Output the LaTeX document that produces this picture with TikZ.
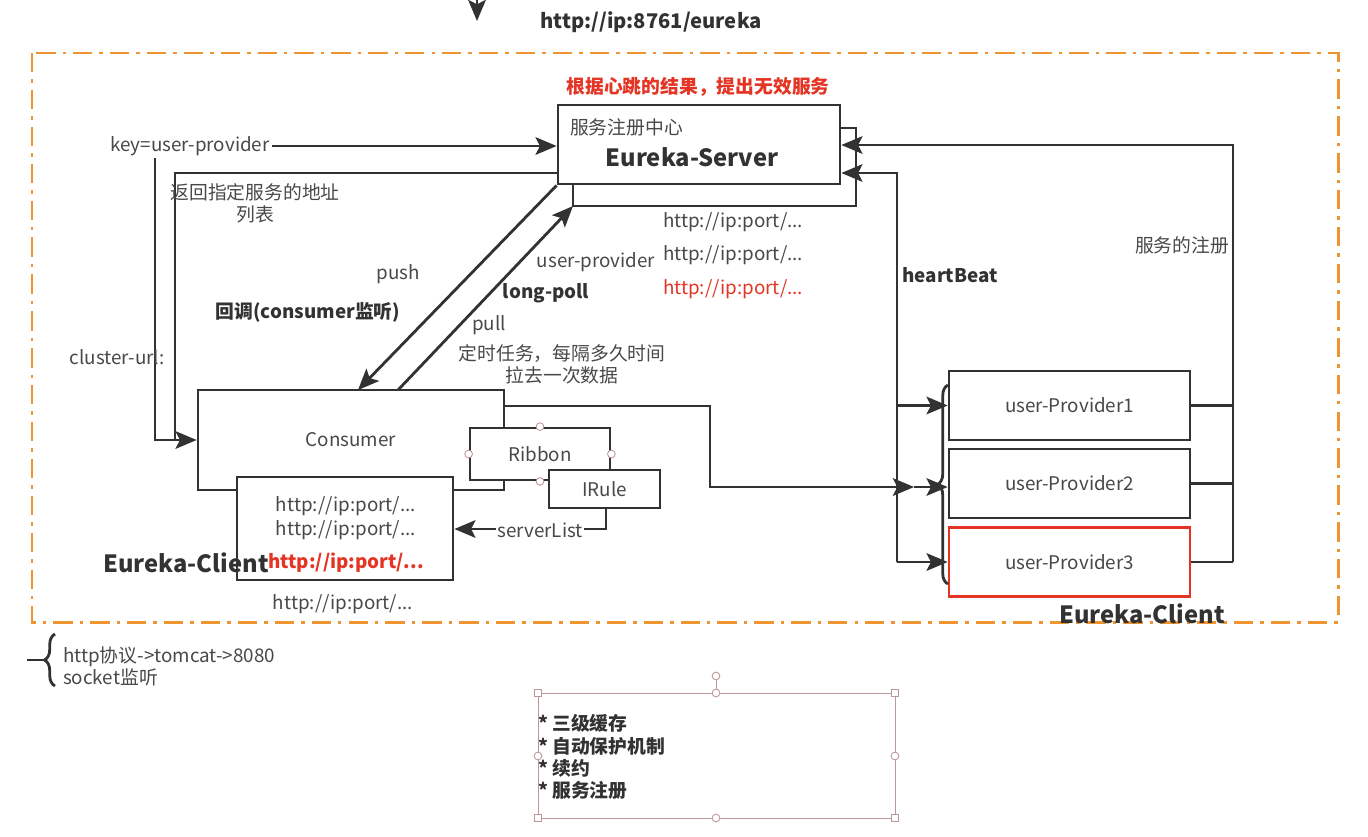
\documentclass[tikz,border=0pt]{standalone}
\usepackage{fontspec}
\setmainfont{Noto Sans CJK SC}
\usetikzlibrary{arrows.meta,decorations.pathreplacing}
\definecolor{ink}{RGB}{50,50,50}
\definecolor{txt}{RGB}{72,72,72}
\definecolor{frame}{RGB}{238,148,48}
\definecolor{alert}{RGB}{228,52,36}
\definecolor{handle}{RGB}{190,150,150}
\newcommand\normsize{\fontsize{10.7}{12.6}\selectfont}
\newcommand\bigsize{\fontsize{13.5}{16}\selectfont}
\tikzset{
 ln/.style={draw=ink,line width=1.6pt},
 arr/.style={ln,-{Stealth[length=12pt,width=10pt,inset=2.5pt]}},
 box/.style={draw=ink,line width=1.6pt,fill=white,text=txt,font=\normsize,inner sep=0pt},
 lab/.style={text=txt,font=\normsize,inner sep=1pt},
 bld/.style={text=ink,font=\normsize\bfseries,inner sep=1pt},
 big/.style={text=ink,font=\bigsize\bfseries,inner sep=1pt},
 hnd/.style={draw=handle,fill=white,line width=0.5pt}
}

\begin{document}
\begin{tikzpicture}[x=0.02cm,y=-0.02cm]
\useasboundingbox (0,0) rectangle (1368,836);

\draw[frame,line width=1.7pt,dash pattern=on 11pt off 4pt on 2pt off 4pt] (32,53) rectangle (1338,622);

\coordinate (topin) at (477,-2);
\coordinate (topout) at (477,21);
\draw[arr] (topin) -- (topout);
\node[bld,font=\fontsize{11.5}{13}\selectfont\bfseries] (eurl) at (651,22) {http://ip:8761/eureka};
\node[bld,text=alert] (note) at (698,87) {根据心跳的结果，提出无效服务};

% server and clients
\node[box,minimum width=5.64cm,minimum height=1.58cm] (server) at (699,144.5) {};
\node[lab,anchor=west] (srvcn) at (568,127) {服务注册中心};
\node[big] (srvname) at (692,157) {Eureka-Server};

\node[box,minimum width=6.12cm,minimum height=2cm] (consumer) at (351,440) {Consumer};
\node[box,minimum width=4.32cm,minimum height=2.06cm] (list) at (345,528.5) {};
\node[box,minimum width=2.8cm,minimum height=1.04cm] (ribbon) at (540,454) {Ribbon};
\node[box,minimum width=2.22cm,minimum height=0.76cm] (irule) at (604.5,489) {IRule};
\foreach \a in {north,west,east,south}
  \draw[hnd] (ribbon.\a) circle[radius=2.2pt];

\foreach \i/\y/\c in {1/405.5/ink,2/483.5/ink,3/562/alert}
  \node[box,draw=\c,minimum width=4.82cm,minimum height=1.38cm] (prov\i) at (1069.5,\y) {user-Provider\i};

% left side
\node[lab] (keylbl) at (190,146) {key=user-provider};
\draw[arr] (keylbl.east) -- (keylbl.east -| server.west);
\coordinate (keyfoot) at (155,158);
\coordinate (backin) at (175,173);
\draw[ln] (backin -| server.west) -- (backin) -- (175,441);
\draw[arr] (keyfoot) |- (consumer.west);
\node[lab,align=center] (backlbl) at (255,203) {返回指定服务的地址\\列表};
\node[lab] (clusterlbl) at (117,357) {cluster-url:};

% push / pull
\coordinate (pushend) at (358,390);
\coordinate (pullstart) at (398,390);
\coordinate (loopa) at (573,206);
\coordinate (loopb) at (856,206);
\coordinate (loopc) at (856,128);
\draw[ln] (server.south west -| loopa) -- (loopa) -- (loopb) -- (loopc) -- (loopc -| server.east);
\draw[arr] (server.south west) -- (pushend);
\draw[arr] (pullstart) -- (loopa);
\node[lab] (pushlbl) at (398,274) {push};
\node[bld] (cblbl) at (308,312) {回调(consumer监听)};
\node[lab] (uplbl) at (596,262) {user-provider};
\node[bld] (lplbl) at (546,293) {long-poll};
\node[lab] (pulllbl) at (489,325) {pull};
\node[lab,align=center] (tasklbl) at (562,364) {定时任务，每隔多久时间\\拉去一次数据};
\node[lab,anchor=west] (url1) at (661,222) {http://ip:port/...};
\node[lab,anchor=west] (url2) at (661,255) {http://ip:port/...};
\node[lab,anchor=west,text=alert] (url3) at (661,289) {http://ip:port/...};

% client list
\node[lab] (lurl1) at (346,506) {http://ip:port/...};
\node[lab] (lurl2) at (346,530) {http://ip:port/...};
\node[bld,text=alert] (lurl3) at (346,563) {http://ip:port/...};
\node[lab] (lurl4) at (343,604) {http://ip:port/...};
\node[big] (clientl) at (186,563) {Eureka-Client};
\coordinate (slturn) at (606,529);
\draw[arr] (irule.south -| slturn) -- (slturn) -- (slturn -| list.east);
\node[lab,fill=white] (sllbl) at (540,530) {serverList};

% consumer to providers
\coordinate (cturn) at (710,406);
\coordinate (cmid) at (914,487);
\draw[arr] (consumer.east |- cturn) -- (cturn) |- (cmid);
\draw[arr] (cmid) -- (cmid -| prov2.west);
\draw[ln,decorate,decoration={brace,amplitude=6pt}] (948,584) -- (948,385);

% heartbeat
\coordinate (hbtop) at (897,173);
\coordinate (hbbot) at (897,562);
\draw[arr] (hbbot) -- (hbtop) -- (hbtop -| server.east);
\draw[arr] (prov1.west -| hbtop) -- (prov1.west);
\draw[arr] (hbbot) -- (prov3.west);
\node[bld] (hblbl) at (950,275) {heartBeat};

% registration
\coordinate (regtop) at (1233,145);
\foreach \i in {1,2,3}
  \draw[ln] (prov\i.east) -- (prov\i.east -| regtop);
\draw[arr] (prov3.east -| regtop) -- (regtop) -- (regtop -| server.east);
\node[lab] (reglbl) at (1182,245) {服务的注册};
\node[big] (clientr) at (1142,614) {Eureka-Client};

% bottom notes
\coordinate (bracetip) at (44,660);
\coordinate (bracestem) at (27,660);
\draw[ln,decorate,decoration={brace,amplitude=6pt}] (55,686) -- (55,634);
\draw[ln] (bracestem) -- (bracetip);
\node[lab,align=left,anchor=west] (proto) at (61,666) {http协议->tomcat->8080\\socket监听};

\draw[draw=handle,line width=0.5pt] (538,693) rectangle (895,818);
\draw[draw=handle,line width=0.5pt] (716,680) -- (716,693);
\foreach \p in {(538,693),(895,693),(538,818),(895,818)}
  \draw[hnd] \p ++(-3.5,-3.5) rectangle ++(7,7);
\foreach \p in {(716,693),(716,818),(538,756),(895,756),(716,676)}
  \draw[hnd] \p circle[radius=2.2pt];
\node[bld,align=left,anchor=west] (feat) at (536,757) {* 三级缓存\\* 自动保护机制\\* 续约\\* 服务注册};
\end{tikzpicture}
\end{document}
